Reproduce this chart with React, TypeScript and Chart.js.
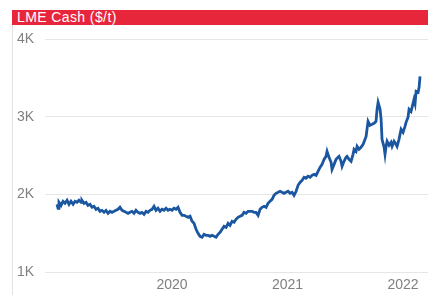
import React, { useEffect, useRef } from "react";
import { Chart, registerables } from "chart.js";

Chart.register(...registerables);

const TITLE = "LME Cash ($/t)";

const years: number[] = [
  2019.004, 2019.013, 2019.021, 2019.039, 2019.056, 2019.073, 2019.091, 2019.108, 2019.125, 2019.143,
  2019.160, 2019.177, 2019.194, 2019.212, 2019.220, 2019.238, 2019.255, 2019.272, 2019.290, 2019.307,
  2019.324, 2019.342, 2019.359, 2019.376, 2019.394, 2019.411, 2019.428, 2019.446, 2019.463, 2019.480,
  2019.498, 2019.515, 2019.532, 2019.549, 2019.567, 2019.584, 2019.601, 2019.619, 2019.636, 2019.653,
  2019.671, 2019.688, 2019.705, 2019.723, 2019.740, 2019.757, 2019.775, 2019.792, 2019.809, 2019.827,
  2019.844, 2019.861, 2019.878, 2019.896, 2019.913, 2019.930, 2019.948, 2019.965, 2019.982, 2020.000,
  2020.017, 2020.035, 2020.052, 2020.069, 2020.087, 2020.104, 2020.121, 2020.139, 2020.156, 2020.173,
  2020.190, 2020.208, 2020.225, 2020.242, 2020.260, 2020.277, 2020.294, 2020.312, 2020.329, 2020.346,
  2020.364, 2020.381, 2020.398, 2020.416, 2020.433, 2020.450, 2020.468, 2020.485, 2020.502, 2020.519,
  2020.537, 2020.554, 2020.571, 2020.589, 2020.606, 2020.623, 2020.641, 2020.658, 2020.675, 2020.693,
  2020.710, 2020.727, 2020.745, 2020.762, 2020.779, 2020.797, 2020.814, 2020.831, 2020.848, 2020.866,
  2020.883, 2020.900, 2020.918, 2020.935, 2020.952, 2020.970, 2020.987, 2021.004, 2021.022, 2021.039,
  2021.056, 2021.074, 2021.091, 2021.108, 2021.126, 2021.143, 2021.160, 2021.177, 2021.195, 2021.212,
  2021.229, 2021.247, 2021.264, 2021.281, 2021.299, 2021.316, 2021.333, 2021.342, 2021.359, 2021.377,
  2021.385, 2021.403, 2021.420, 2021.437, 2021.446, 2021.463, 2021.472, 2021.489, 2021.506, 2021.515,
  2021.532, 2021.550, 2021.567, 2021.576, 2021.593, 2021.602, 2021.619, 2021.636, 2021.654, 2021.671,
  2021.680, 2021.697, 2021.714, 2021.732, 2021.749, 2021.766, 2021.775, 2021.784, 2021.801, 2021.810,
  2021.818, 2021.836, 2021.844, 2021.853, 2021.862, 2021.879, 2021.896, 2021.905, 2021.922, 2021.939,
  2021.948, 2021.965, 2021.983, 2022.000, 2022.017, 2022.026, 2022.043, 2022.052, 2022.069, 2022.078,
  2022.095, 2022.104, 2022.113, 2022.130, 2022.139, 2022.147,
];

const cashPrice: number[] = [
  1871, 1820, 1897, 1858, 1910, 1884, 1923, 1871, 1910, 1871,
  1910, 1897, 1923, 1897, 1923, 1884, 1897, 1858, 1871, 1833,
  1846, 1807, 1820, 1781, 1794, 1768, 1794, 1755, 1781, 1768,
  1781, 1794, 1807, 1833, 1794, 1781, 1768, 1755, 1768, 1781,
  1755, 1794, 1768, 1755, 1768, 1743, 1781, 1768, 1794, 1807,
  1846, 1794, 1820, 1781, 1807, 1794, 1820, 1794, 1807, 1794,
  1820, 1807, 1833, 1768, 1730, 1730, 1717, 1704, 1717, 1653,
  1627, 1550, 1498, 1459, 1447, 1485, 1472, 1472, 1459, 1472,
  1459, 1447, 1485, 1511, 1550, 1588, 1575, 1627, 1601, 1653,
  1640, 1678, 1704, 1717, 1730, 1768, 1755, 1781, 1781, 1781,
  1768, 1768, 1730, 1807, 1833, 1846, 1833, 1884, 1910, 1936,
  1987, 2013, 2026, 2039, 2026, 2013, 2026, 2039, 2013, 2026,
  1987, 2039, 2116, 2154, 2180, 2219, 2206, 2232, 2219, 2245,
  2257, 2245, 2296, 2347, 2386, 2450, 2489, 2553, 2476, 2412,
  2322, 2386, 2450, 2476, 2489, 2425, 2360, 2425, 2476, 2489,
  2450, 2425, 2515, 2579, 2553, 2618, 2579, 2605, 2644, 2708,
  2746, 2940, 2888, 2901, 2914, 2940, 3094, 3184, 3094, 2965,
  2708, 2605, 2515, 2618, 2682, 2631, 2669, 2618, 2682, 2644,
  2618, 2708, 2837, 2798, 2875, 2927, 2991, 3094, 3068, 3119,
  3223, 3171, 3326, 3313, 3377, 3519,
];

const xTickYears: number[] = [2020, 2021, 2022];
const yTickValues: number[] = [1000, 2000, 3000, 4000];
const yTickLabels: string[] = ["1K", "2K", "3K", "4K"];

export default function App() {
  const canvasRef = useRef<HTMLCanvasElement | null>(null);

  useEffect(() => {
    const canvas = canvasRef.current;
    if (!canvas) return;
    const chart = new Chart(canvas, {
      type: "line",
      data: {
        datasets: [
          {
            data: years.map((x, i) => ({ x, y: cashPrice[i] })),
            borderColor: "#1b56a0",
            borderWidth: 2.8,
            pointRadius: 0,
            tension: 0,
            fill: false,
          },
        ],
      },
      options: {
        animation: false,
        responsive: false,
        maintainAspectRatio: false,
        layout: { padding: { left: 4, top: 14, right: 0, bottom: 0 } },
        plugins: { legend: { display: false }, tooltip: { enabled: false } },
        scales: {
          x: {
            type: "linear",
            min: 2018.9,
            max: 2022.216,
            grid: { display: false, drawTicks: false },
            border: { display: false },
            afterBuildTicks: (scale: any) => {
              scale.ticks = xTickYears.map((v) => ({ value: v }));
            },
            afterFit: (scale: any) => {
              scale.height = 23;
            },
            ticks: {
              color: "#808080",
              font: { family: "'Liberation Sans', Arial, sans-serif", size: 14 },
              padding: 5,
              maxRotation: 0,
              autoSkip: false,
              callback: (v: any) => String(v),
            },
          },
          y: {
            type: "linear",
            min: 1000,
            max: 4000,
            afterBuildTicks: (scale: any) => {
              scale.ticks = yTickValues.map((v) => ({ value: v }));
            },
            afterFit: (scale: any) => {
              scale.width = 28;
            },
            grid: { color: "#e6e6e6", lineWidth: 1, drawTicks: false },
            border: { display: false },
            ticks: {
              color: "#808080",
              crossAlign: "far",
              padding: 0,
              font: { family: "'Liberation Sans', Arial, sans-serif", size: 14 },
              callback: (v: any) => {
                const i = yTickValues.indexOf(Number(v));
                return i >= 0 ? yTickLabels[i] : "";
              },
            },
          },
        },
      },
    } as any);
    return () => chart.destroy();
  }, []);

  return (
    <div
      style={{
        position: "fixed",
        left: 0,
        top: 0,
        width: 428,
        height: 295,
        background: "#fff",
        overflow: "hidden",
      }}
    >
      <div
        style={{
          position: "absolute",
          left: 12,
          top: 10,
          width: 416,
          height: 15,
          background: "#e8263b",
          color: "#fff",
          fontFamily: "'Liberation Sans', Arial, sans-serif",
          fontSize: 14,
          lineHeight: "15px",
          letterSpacing: 0.4,
          paddingLeft: 5,
          boxSizing: "border-box",
          whiteSpace: "nowrap",
        }}
      >
        {TITLE}
      </div>
      <div
        style={{
          position: "absolute",
          left: 12,
          top: 25,
          width: 1,
          height: 270,
          background: "#e2e2e2",
        }}
      />
      <canvas
        ref={canvasRef}
        width={415}
        height={270}
        style={{ position: "absolute", left: 13, top: 25, width: 415, height: 270 }}
      />
    </div>
  );
}
